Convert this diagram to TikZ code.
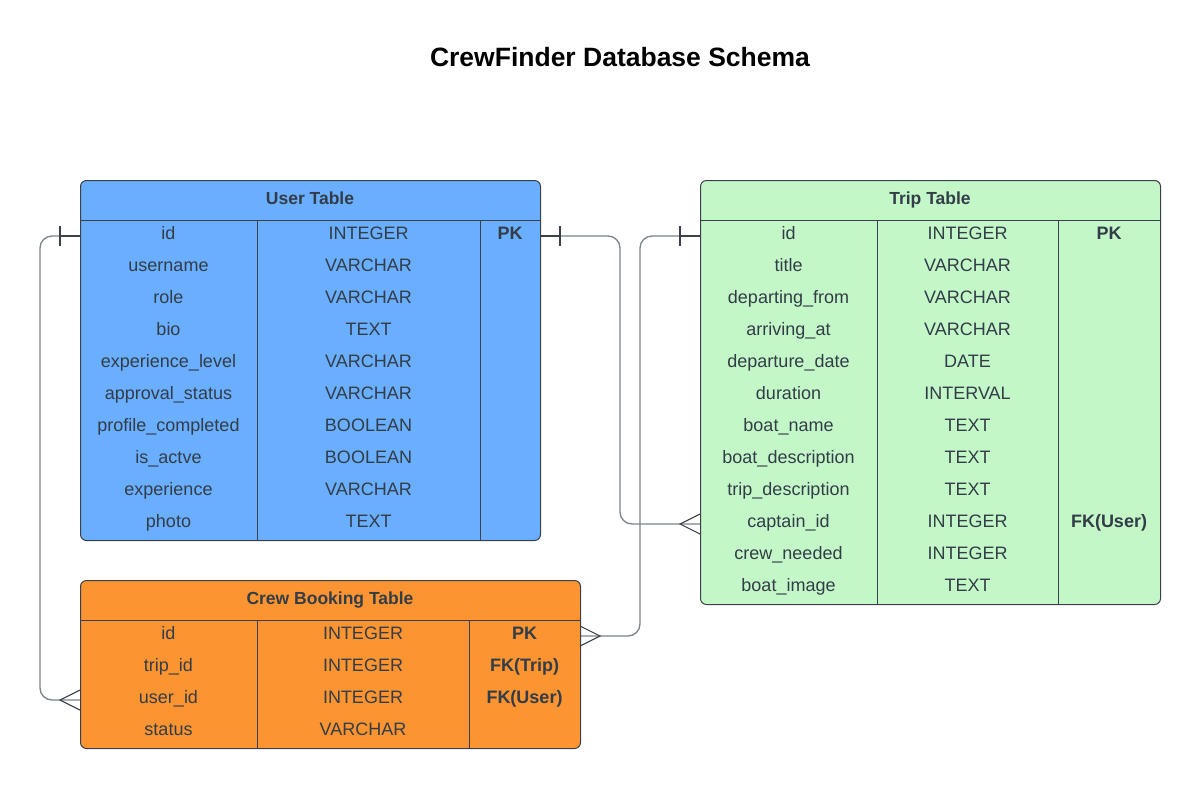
\documentclass[tikz,border=0pt]{standalone}
\usepackage{fontspec}
\setmainfont{Liberation Sans}
\usetikzlibrary{calc}
\definecolor{userblue}{HTML}{6AAEFF}
\definecolor{tripgreen}{HTML}{C3F7C8}
\definecolor{crewor}{HTML}{FC9432}
\definecolor{edge}{HTML}{3A414A}
\definecolor{txt}{HTML}{333D47}
\definecolor{connc}{HTML}{7C838B}
\tikzset{
  tablebox/.style={draw=edge, line width=1pt, rounded corners=6pt, inner sep=0pt, anchor=north west},
  tline/.style={draw=edge, line width=0.9pt},
  hdr/.style={text=txt, font=\fontsize{17.5}{20}\selectfont\bfseries, inner sep=0pt, anchor=base},
  cell/.style={text=txt, font=\fontsize{18}{21}\selectfont, inner sep=0pt, anchor=base},
  keycell/.style={text=txt, font=\fontsize{18}{21}\selectfont\bfseries, inner sep=0pt, anchor=base},
  ttl/.style={text=black, font=\fontsize{26.5}{30}\selectfont\bfseries, inner sep=0pt},
  conn/.style={draw=connc, line width=1.3pt, rounded corners=12pt},
  erm/.style={draw=edge, line width=1.1pt},
}
\begin{document}
\begin{tikzpicture}[x=1pt,y=-1pt]
\useasboundingbox[fill=white] (0,0) rectangle (1201,788);

\node[ttl] (title) at (620,57) {CrewFinder Database Schema};

% connector anchor coordinates
\coordinate (uidL) at (80,236);
\coordinate (uidR) at (540,236);
\coordinate (tidL) at (700,236);
\coordinate (tcapL) at (700,524);
\coordinate (cidR) at (580,636);
\coordinate (cuserL) at (80,700);

% connectors
\draw[conn] (uidL) -- ++(-40,0) |- (cuserL);
\draw[conn] (uidR) -- ++(80,0) |- (tcapL);
\draw[conn] (tidL) -- ++(-60,0) |- (cidR);

% ---------------- User table
\node[tablebox, fill=userblue, minimum width=460pt, minimum height=360pt] (user) at (80,180) {};
\draw[tline] (80,220) -- (540,220);
\draw[tline] (257,220) -- (257,540);
\draw[tline] (480,220) -- (480,540);
\node[hdr] (userhead) at (310,204) {User Table};
\foreach \a/\b/\c [count=\i from 0] in {id/INTEGER/PK, username/VARCHAR/, role/VARCHAR/, bio/TEXT/, experience\_level/VARCHAR/, approval\_status/VARCHAR/, profile\_completed/BOOLEAN/, is\_actve/BOOLEAN/, experience/VARCHAR/, photo/TEXT/}{
  \node[cell] (u\i a) at (168.5,239.5+32*\i) {\a};
  \node[cell] (u\i b) at (368.5,239.5+32*\i) {\b};
  \node[keycell] (u\i c) at (510,239.5+32*\i) {\c};
}

% ---------------- Trip table
\node[tablebox, fill=tripgreen, minimum width=460pt, minimum height=424pt] (trip) at (700,180) {};
\draw[tline] (700,220) -- (1160,220);
\draw[tline] (877,220) -- (877,604);
\draw[tline] (1058,220) -- (1058,604);
\node[hdr] (triphead) at (930,204) {Trip Table};
\foreach \a/\b/\c [count=\i from 0] in {id/INTEGER/PK, title/VARCHAR/, departing\_from/VARCHAR/, arriving\_at/VARCHAR/, departure\_date/DATE/, duration/INTERVAL/, boat\_name/TEXT/, boat\_description/TEXT/, trip\_description/TEXT/, captain\_id/INTEGER/FK(User), crew\_needed/INTEGER/, boat\_image/TEXT/}{
  \node[cell] (t\i a) at (788.5,239.5+32*\i) {\a};
  \node[cell] (t\i b) at (967.5,239.5+32*\i) {\b};
  \node[keycell] (t\i c) at (1109,239.5+32*\i) {\c};
}

% ---------------- Crew Booking table
\node[tablebox, fill=crewor, minimum width=500pt, minimum height=168pt] (crew) at (80,580) {};
\draw[tline] (80,620) -- (580,620);
\draw[tline] (257,620) -- (257,748);
\draw[tline] (469,620) -- (469,748);
\node[hdr] (crewhead) at (330,604) {Crew Booking Table};
\foreach \a/\b/\c [count=\i from 0] in {id/INTEGER/PK, trip\_id/INTEGER/FK(Trip), user\_id/INTEGER/FK(User), status/VARCHAR/}{
  \node[cell] (c\i a) at (168.5,639.5+32*\i) {\a};
  \node[cell] (c\i b) at (363,639.5+32*\i) {\b};
  \node[keycell] (c\i c) at (524.5,639.5+32*\i) {\c};
}

% ---------------- ER markers
% one-bars
\draw[erm] ($(uidL)+(-20,-10)$) -- ($(uidL)+(-20,10)$);
\draw[erm] ($(uidR)+(20,-10)$) -- ($(uidR)+(20,10)$);
\draw[erm] ($(tidL)+(-20,-10)$) -- ($(tidL)+(-20,10)$);
\draw[erm] (uidL) -- ($(uidL)+(-20,0)$);
\draw[erm] (uidR) -- ($(uidR)+(20,0)$);
\draw[erm] (tidL) -- ($(tidL)+(-20,0)$);
% crow's feet
\draw[erm] ($(cuserL)+(0,-10)$) -- ($(cuserL)+(-20,0)$) -- ($(cuserL)+(0,10)$);
\draw[erm] ($(tcapL)+(0,-10)$) -- ($(tcapL)+(-20,0)$) -- ($(tcapL)+(0,10)$);
\draw[erm] ($(cidR)+(0,-10)$) -- ($(cidR)+(20,0)$) -- ($(cidR)+(0,10)$);
\end{tikzpicture}
\end{document}
